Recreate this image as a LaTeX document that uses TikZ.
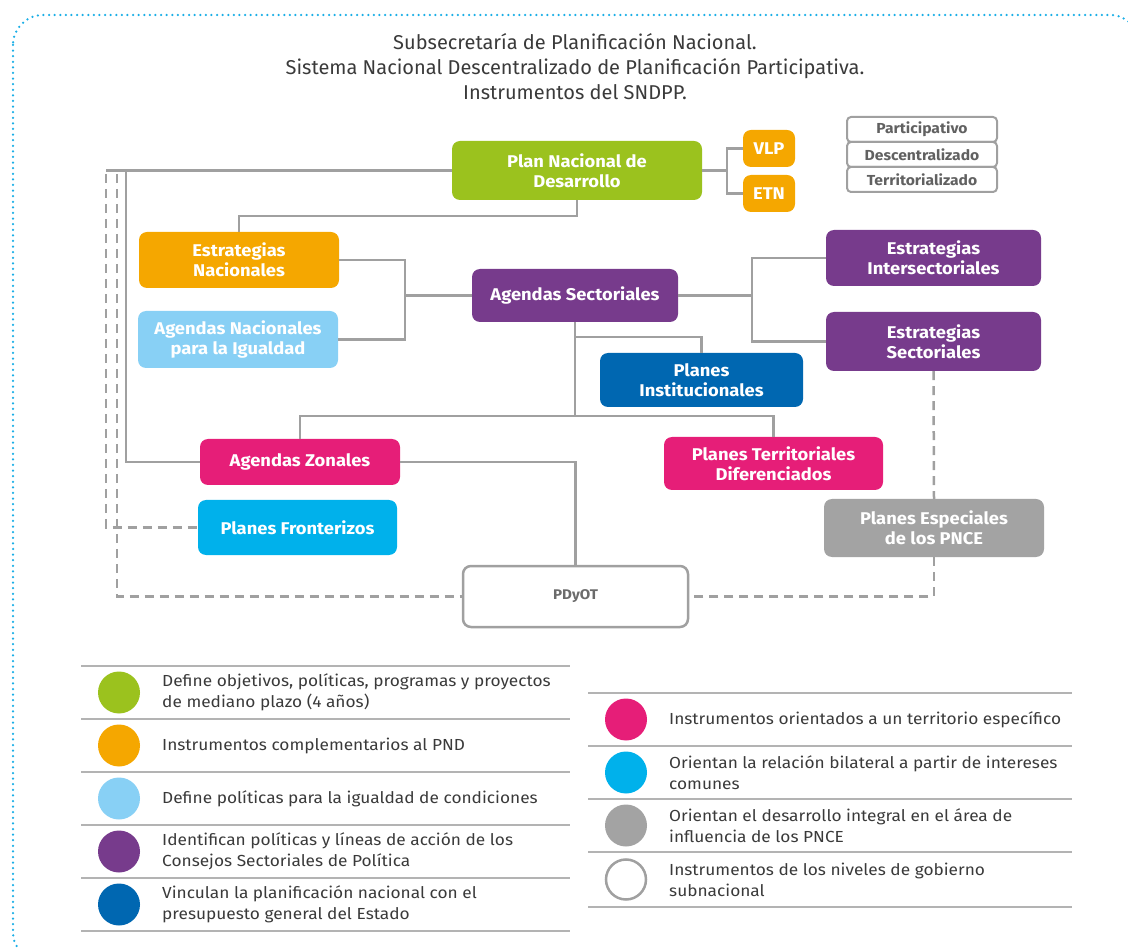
\documentclass[tikz,border=0pt]{standalone}
\usepackage{fontspec}
\setmainfont{Fira Sans}[FakeStretch=1.08]
\newfontfamily\titlefont{Fira Sans}
\usetikzlibrary{calc}
\definecolor{cgreen}{HTML}{9BC21E}
\definecolor{corange}{HTML}{F5A700}
\definecolor{clblue}{HTML}{88D0F5}
\definecolor{cpurple}{HTML}{773B8C}
\definecolor{cblue}{HTML}{0067B1}
\definecolor{cpink}{HTML}{E61E78}
\definecolor{ccyan}{HTML}{00B1EB}
\definecolor{cgray}{HTML}{A3A3A3}
\definecolor{lgray}{HTML}{A0A0A0}
\definecolor{txt}{HTML}{3A3A3A}
\definecolor{frame}{HTML}{1AAEE6}
\tikzset{
  box/.style={rounded corners=8pt, inner sep=2pt, align=center, text=white,
    font=\bfseries\fontsize{17}{20}\selectfont},
  tagbox/.style={draw=lgray, line width=2pt, fill=white, rounded corners=4pt,
    minimum width=150pt, minimum height=25pt, inner sep=0pt, text=txt!80,
    font=\bfseries\fontsize{14.5}{16}\selectfont},
  conn/.style={draw=lgray, line width=2.5pt},
  dashline/.style={draw=lgray, line width=2.5pt, dash pattern=on 9pt off 6pt},
  legline/.style={draw=lgray!80, line width=1.5pt},
  dot/.style={circle, minimum size=42pt, inner sep=0pt},
  legtext/.style={anchor=west, align=left, text=txt, inner sep=0pt,
    font=\fontsize{16}{21}\selectfont},
}
\begin{document}
\begin{tikzpicture}[x=1pt,y=-1pt]
\useasboundingbox (0,0) rectangle (1128,949);
\begin{scope}
  \clip (0,0) rectangle (1128,949);
  \draw[frame, line width=2.5pt, line cap=round, dash pattern=on 0pt off 5.6pt,
    rounded corners=30pt] (13,15) rectangle (1140,962);
\end{scope}

% title
\node[align=center, text=txt, font=\titlefont\fontsize{20}{25}\selectfont] (title) at (575,67)
  {Subsecretaría de Planificación Nacional.\\
   Sistema Nacional Descentralizado de Planificación Participativa.\\
   Instrumentos del SNDPP.};

% tag boxes
\node[tagbox] (tp) at (922,129.5) {Participativo};
\node[tagbox] (td) at (922,154.5) {Descentralizado};
\node[tagbox] (tt) at (922,179.5) {Territorializado};

% main boxes
\node[box, fill=cgreen, minimum width=250pt, minimum height=59pt] (pnd) at (577,170.5) {Plan Nacional de\\Desarrollo};
\node[box, fill=corange, minimum width=52pt, minimum height=37pt] (vlp) at (769,148.5) {VLP};
\node[box, fill=corange, minimum width=52pt, minimum height=37pt] (etn) at (769,193.5) {ETN};
\node[box, fill=corange, minimum width=200pt, minimum height=56pt] (en) at (239,260) {Estrategias\\Nacionales};
\node[box, fill=clblue, minimum width=200pt, minimum height=57pt] (ani) at (238,339.5) {Agendas Nacionales\\para la Igualdad};
\node[box, fill=cpurple, minimum width=206pt, minimum height=53pt] (as) at (575,295.5) {Agendas Sectoriales};
\node[box, fill=cpurple, minimum width=215pt, minimum height=56pt] (ei) at (933.5,258) {Estrategias\\Intersectoriales};
\node[box, fill=cpurple, minimum width=215pt, minimum height=59pt] (es) at (933.5,341.5) {Estrategias\\Sectoriales};
\node[box, fill=cblue, minimum width=203pt, minimum height=54pt] (pi) at (701.5,380) {Planes\\Institucionales};
\node[box, fill=cpink, minimum width=200pt, minimum height=46pt] (az) at (300,462) {Agendas Zonales};
\node[box, fill=ccyan, minimum width=199pt, minimum height=55pt] (pf) at (297.5,527.5) {Planes Fronterizos};
\node[box, fill=cpink, minimum width=219pt, minimum height=53pt] (pt) at (773.5,463.5) {Planes Territoriales\\Diferenciados};
\node[box, fill=cgray, minimum width=220pt, minimum height=58pt] (pe) at (934,528) {Planes Especiales\\de los PNCE};
\node[box, draw=lgray, line width=2.5pt, fill=white, text=txt!75, minimum width=225pt, minimum height=61pt,
  font=\bfseries\fontsize{14}{16}\selectfont] (pdyot) at (575.5,596.5) {PDyOT};

% connector junctions
\coordinate (tl) at (106,170.5);
\coordinate (c1) at (126,170.5);
\coordinate (d1) at (106,174);
\coordinate (d2) at (117,174);
\coordinate (j1) at (727,170.5);
\coordinate (j2) at (405,295.5);
\coordinate (j3) at (752,295.5);
\coordinate (j5) at (575,416);
\coordinate (j6) at (575,337);

\draw[conn] (pnd.west) -- (tl);
\draw[conn] (c1) |- (az.west);
\draw[dashline] (d1) |- (pf.west);
\draw[dashline] (d2) |- (pdyot.west);
\draw[conn] (az.east) -| (pdyot.north);
\draw[conn] (pnd.south) -- ++(0,16) -| (en.north);
\draw[conn] (pnd.east) -- (j1);
\draw[conn] (vlp.west) -| (j1) |- (etn.west);
\draw[conn] (en.east) -| (j2) |- (ani.east);
\draw[conn] (j2) -- (as.west);
\draw[conn] (as.east) -- (j3);
\draw[conn] (ei.west) -| (j3) |- (es.west);
\draw[conn] (as.south) -- (j5);
\draw[conn] (j5) -| (az.north);
\draw[conn] (j5) -| (pt.north);
\draw[conn] (j6) -| (pi.north);
\draw[dashline] (es.south) -- (pe.north);
\draw[dashline] (pe.south) |- (pdyot.east);

% legend left
\foreach \y in {666,719,772,825,878,931} \draw[legline] (81,\y) -- (570,\y);
\node[dot, fill=cgreen] (l1) at (119,692.5) {};
\node[legtext] (t1) at (162,692.5) {Define objetivos, políticas, programas y proyectos\\de mediano plazo (4 años)};
\node[dot, fill=corange] (l2) at (119,745.5) {};
\node[legtext] (t2) at (162,745.5) {Instrumentos complementarios al PND};
\node[dot, fill=clblue] (l3) at (119,798.5) {};
\node[legtext] (t3) at (162,798.5) {Define políticas para la igualdad de condiciones};
\node[dot, fill=cpurple] (l4) at (119,851.5) {};
\node[legtext] (t4) at (162,851.5) {Identifican políticas y líneas de acción de los\\Consejos Sectoriales de Política};
\node[dot, fill=cblue] (l5) at (119,904.5) {};
\node[legtext] (t5) at (162,904.5) {Vinculan la planificación nacional con el\\presupuesto general del Estado};

% legend right
\foreach \y in {693,746,799,852,907} \draw[legline] (588,\y) -- (1072,\y);
\node[dot, fill=cpink] (r1) at (626,719.5) {};
\node[legtext] (s1) at (669,719.5) {Instrumentos orientados a un territorio específico};
\node[dot, fill=ccyan] (r2) at (626,772.5) {};
\node[legtext] (s2) at (669,772.5) {Orientan la relación bilateral a partir de intereses\\comunes};
\node[dot, fill=cgray] (r3) at (626,825.5) {};
\node[legtext] (s3) at (669,825.5) {Orientan el desarrollo integral en el área de\\influencia de los PNCE};
\node[dot, draw=lgray, line width=2.5pt, fill=white, minimum size=40pt] (r4) at (626,879.5) {};
\node[legtext] (s4) at (669,879.5) {Instrumentos de los niveles de gobierno\\subnacional};
\end{tikzpicture}
\end{document}
